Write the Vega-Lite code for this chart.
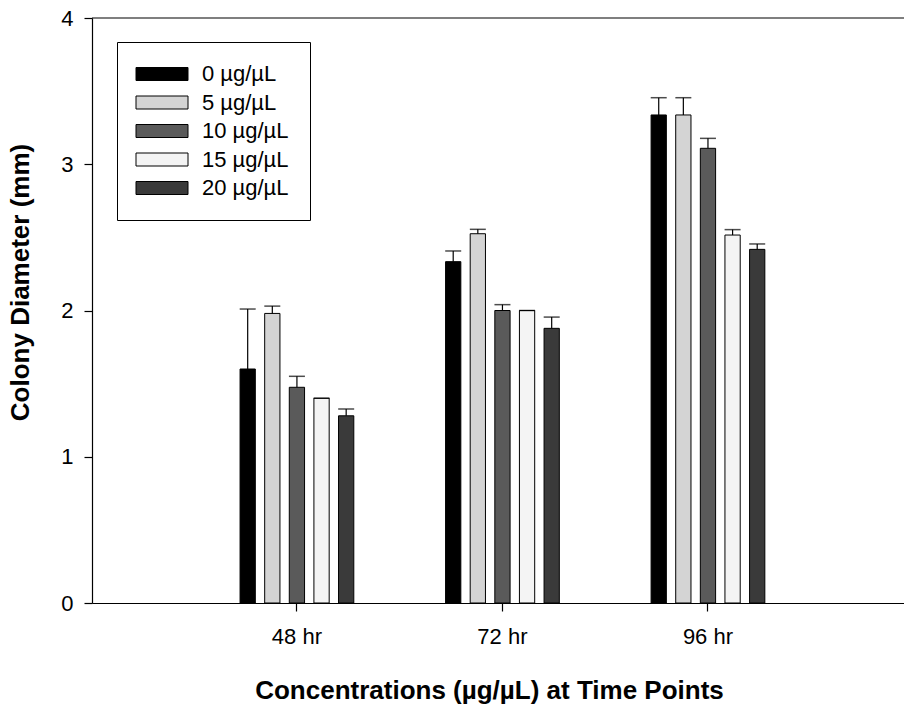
{
  "$schema": "https://vega.github.io/schema/vega-lite/v6.json",
  "width": 812,
  "height": 585,
  "autosize": {"type": "none"},
  "padding": {"left": 92, "top": 18, "right": 0, "bottom": 101},
  "background": "white",
  "config": {
    "view": {"stroke": null},
    "font": "Liberation Sans",
    "axis": {"domainColor": "black", "tickColor": "black", "labelColor": "black", "titleColor": "black", "grid": false, "domainWidth": 1.2, "tickWidth": 1.2}
  },
  "datasets": {
    "bars": [
      {"time": "48 hr", "conc": "0 µg/µL", "value": 1.60, "upper": 2.01},
      {"time": "48 hr", "conc": "5 µg/µL", "value": 1.98, "upper": 2.03},
      {"time": "48 hr", "conc": "10 µg/µL", "value": 1.475, "upper": 1.55},
      {"time": "48 hr", "conc": "15 µg/µL", "value": 1.40, "upper": 1.40},
      {"time": "48 hr", "conc": "20 µg/µL", "value": 1.28, "upper": 1.327},
      {"time": "72 hr", "conc": "0 µg/µL", "value": 2.334, "upper": 2.407},
      {"time": "72 hr", "conc": "5 µg/µL", "value": 2.525, "upper": 2.555},
      {"time": "72 hr", "conc": "10 µg/µL", "value": 2.0, "upper": 2.04},
      {"time": "72 hr", "conc": "15 µg/µL", "value": 2.0, "upper": 2.0},
      {"time": "72 hr", "conc": "20 µg/µL", "value": 1.878, "upper": 1.955},
      {"time": "96 hr", "conc": "0 µg/µL", "value": 3.337, "upper": 3.455},
      {"time": "96 hr", "conc": "5 µg/µL", "value": 3.337, "upper": 3.455},
      {"time": "96 hr", "conc": "10 µg/µL", "value": 3.109, "upper": 3.177},
      {"time": "96 hr", "conc": "15 µg/µL", "value": 2.516, "upper": 2.553},
      {"time": "96 hr", "conc": "20 µg/µL", "value": 2.418, "upper": 2.455}
    ]
  },
  "data": {"name": "bars"},
  "layer": [
    {
      "mark": {"type": "bar", "stroke": "black", "strokeWidth": 1},
      "encoding": {
        "x": {"field": "time", "type": "nominal", "scale": {"domain": ["48 hr", "72 hr", "96 hr"], "paddingInner": 0.401, "paddingOuter": 0.676, "align": 0.516},
          "axis": {"title": "Concentrations (µg/µL) at Time Points", "labelAngle": 0, "labelFontSize": 22, "labelPadding": 15, "tickSize": 8, "titleFontSize": 26, "titleFontWeight": "bold", "titlePadding": 30, "titleX": 397}},
        "xOffset": {"field": "conc", "type": "nominal", "scale": {"domain": ["0 µg/µL", "5 µg/µL", "10 µg/µL", "15 µg/µL", "20 µg/µL"], "paddingInner": 0.38, "paddingOuter": 0.19}},
        "y": {"field": "value", "type": "quantitative", "scale": {"domain": [0, 4], "nice": false},
          "axis": {"title": "Colony Diameter (mm)", "values": [0, 1, 2, 3, 4], "format": "d", "labelFontSize": 22, "labelPadding": 11, "tickSize": 8, "titleFontSize": 26, "titleFontWeight": "bold", "titlePadding": 27, "titleY": 264}},
        "fill": {"field": "conc", "type": "nominal",
          "scale": {"domain": ["0 µg/µL", "5 µg/µL", "10 µg/µL", "15 µg/µL", "20 µg/µL"], "range": ["#000000", "#d4d4d4", "#5a5a5a", "#f4f4f4", "#3a3a3a"]},
          "legend": {"title": null, "orient": "none", "legendX": 25, "legendY": 24, "direction": "vertical",
            "symbolType": "M-2,-1H6V1H-2Z", "symbolSize": 169, "symbolStrokeColor": "black", "symbolStrokeWidth": 1,
            "labelFontSize": 22, "labelColor": "black", "labelOffset": 42, "rowPadding": 6.5,
            "strokeColor": "black", "fillColor": "white", "padding": 21, "offset": 0}}
      }
    },
    {
      "mark": {"type": "rule", "color": "black", "strokeWidth": 1.2},
      "encoding": {
        "x": {"field": "time", "type": "nominal"},
        "xOffset": {"field": "conc", "type": "nominal"},
        "y": {"field": "value", "type": "quantitative"},
        "y2": {"field": "upper"}
      }
    },
    {
      "mark": {"type": "tick", "color": "black", "size": 16, "thickness": 1.5},
      "encoding": {
        "x": {"field": "time", "type": "nominal"},
        "xOffset": {"field": "conc", "type": "nominal"},
        "y": {"field": "upper", "type": "quantitative"}
      }
    },
    {
      "data": {"values": [{}]},
      "mark": {"type": "rule", "color": "black", "strokeWidth": 1.2},
      "encoding": {"y": {"datum": 4}}
    }
  ]
}
